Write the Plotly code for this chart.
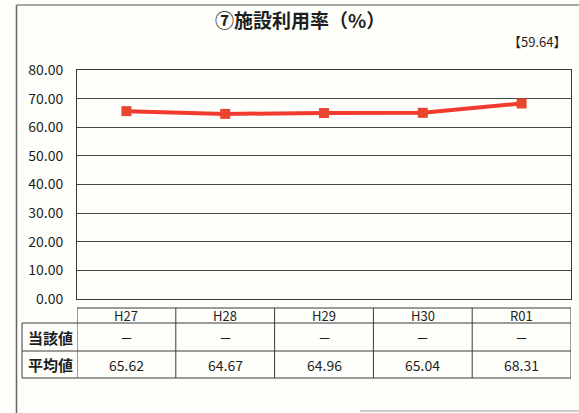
import plotly.graph_objects as go

categories = ["H27", "H28", "H29", "H30", "R01"]
avg_values = [65.62, 64.67, 64.96, 65.04, 68.31]
own_values = ["－", "－", "－", "－", "－"]
row_labels = ["当該値", "平均値"]
title_text = "⑦施設利用率（%）"
ref_value = "【59.64】"
y_ticks = [0, 10, 20, 30, 40, 50, 60, 70, 80]

W, H = 579, 413
L, R, T, B = 77, 8, 70, 114
pw = W - L - R
ph = H - T - B

def py(pix):
    return (H - B - pix) / ph

def px(pix):
    return (pix - L) / pw

FONT = "Noto Sans CJK JP"
TXT = "#1e1e1e"
LINE = "#3a3a3a"

fig = go.Figure()
fig.add_trace(go.Scatter(
    x=list(range(len(categories))), y=avg_values, mode="lines+markers",
    line=dict(color="#F23A2E", width=4),
    marker=dict(symbol="square", size=10, color="#E9452F"),
    hoverinfo="skip", cliponaxis=False,
))

shapes = []
top, r1, r2, bot = py(308), py(323), py(351), py(378)
shapes.append(dict(type="line", xref="x", yref="paper", x0=-0.5, x1=4.5, y0=top, y1=top, line=dict(color=LINE, width=1)))
for yy in [r1, r2, bot]:
    shapes.append(dict(type="line", xref="paper", yref="paper", x0=px(22), x1=1, y0=yy, y1=yy, line=dict(color=LINE, width=1)))
for i in range(len(categories) + 1):
    shapes.append(dict(type="line", xref="x", yref="paper", x0=i - 0.5, x1=i - 0.5, y0=top, y1=bot, line=dict(color=LINE, width=1)))
shapes.append(dict(type="line", xref="paper", yref="paper", x0=px(22), x1=px(22), y0=r1, y1=bot, line=dict(color=LINE, width=1)))
# outer frame
shapes.append(dict(type="line", xref="paper", yref="paper", x0=px(16.5), x1=px(16.5), y0=py(5), y1=py(413), line=dict(color="#666", width=1.5)))
shapes.append(dict(type="line", xref="paper", yref="paper", x0=px(16.5), x1=px(579), y0=py(5), y1=py(5), line=dict(color="#888", width=1.5)))
shapes.append(dict(type="line", xref="paper", yref="paper", x0=px(360), x1=px(579), y0=py(411), y1=py(411), line=dict(color="#999", width=1)))

def A(text, x, y, size, xref="paper", xanchor="center"):
    return dict(text=text, xref=xref, yref="paper", x=x, y=y, xanchor=xanchor, yanchor="middle",
                showarrow=False, font=dict(size=size, family=FONT, color=TXT))

ann = []
ann.append(A("<b>" + title_text + "</b>", px(300), py(20), 19))
ann.append(A(ref_value, px(568), py(42), 13, xanchor="right"))
for i, c in enumerate(categories):
    ann.append(A(c, i, (top + r1) / 2, 13, xref="x"))
    ann.append(A(own_values[i], i, (r1 + r2) / 2, 13, xref="x"))
    ann.append(A(f"{avg_values[i]:.2f}", i, (r2 + bot) / 2, 14, xref="x"))
for k, lab in enumerate(row_labels):
    yy = (r1 + r2) / 2 if k == 0 else (r2 + bot) / 2
    ann.append(A("<b>" + lab + "</b>", px(50.5), yy, 15))

fig.update_layout(
    width=W, height=H, margin=dict(l=L, r=R, t=T, b=B),
    paper_bgcolor="#FEFEFA", plot_bgcolor="#FEFEFA", showlegend=False,
    shapes=shapes, annotations=ann,
    xaxis=dict(range=[-0.5, 4.5], showticklabels=False, showgrid=False, zeroline=False,
               showline=True, mirror=True, linecolor=LINE, linewidth=1, fixedrange=True),
    yaxis=dict(range=[0, 80], tickvals=y_ticks, tickformat=".2f", showgrid=True, gridcolor="#444", gridwidth=1,
               zeroline=False, showline=True, mirror=True, linecolor=LINE, linewidth=1,
               ticks="", ticklabelstandoff=10, tickfont=dict(size=14, family=FONT, color=TXT), fixedrange=True),
)
fig.write_html("out.html", config={"displayModeBar": False},
               post_script="document.body.style.margin='0';document.body.style.background='#FEFEFA';")
